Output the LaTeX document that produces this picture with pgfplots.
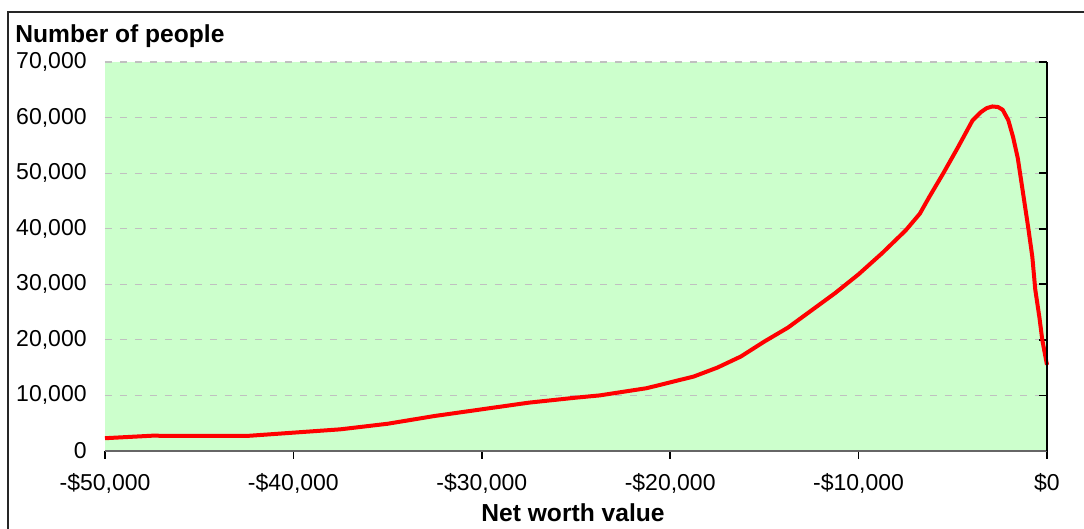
\documentclass[border=0pt]{standalone}
\usepackage{fontspec}
\setmainfont{Liberation Sans}
\usepackage{pgfplots}
\pgfplotsset{compat=1.18}
\definecolor{bggreen}{HTML}{CCFFCC}
\definecolor{gridgray}{HTML}{C0C0C0}
\begin{document}
\begin{tikzpicture}
\path[use as bounding box] (-52.5pt,-39pt) rectangle (489.5pt,225.5pt);
\draw[line width=0.9pt, black!85] (-48.5pt,-45pt) -- (-48.5pt,219.5pt) -- (495pt,219.5pt);
\begin{axis}[
  at={(0,0)}, anchor=south west,
  scale only axis, width=471pt, height=194.5pt,
  xmin=-50000, xmax=0, ymin=0, ymax=70000,
  scaled x ticks=false, scaled y ticks=false,
  axis background/.style={fill=bggreen},
  axis line style={draw=none},
  xtick={-50000,-40000,-30000,-20000,-10000,0},
  xticklabels={{-\$50,000},{-\$40,000},{-\$30,000},{-\$20,000},{-\$10,000},{\$0}},
  ytick={0,10000,20000,30000,40000,50000,60000,70000},
  yticklabels={0,{10,000},{20,000},{30,000},{40,000},{50,000},{60,000},{70,000}},
  xtick pos=bottom, xticklabel pos=bottom,
  ytick pos=right, yticklabel pos=left,
  tick align=inside,
  major tick length=4pt,
  tick style={black, line width=0.8pt},
  x tick style={yshift=-4pt},
  ymajorgrids,
  major grid style={gridgray, line width=0.6pt, dash pattern=on 3.5pt off 4pt},
  tick label style={font=\fontsize{11.5}{13}\selectfont},
  xticklabel style={anchor=base, inner sep=0pt, yshift=-20pt},
  yticklabel style={anchor=east, inner sep=0pt, xshift=-9pt},
  every axis y label/.style={at={(rel axis cs:0,1)}, anchor=base west, inner sep=0pt, xshift=-45pt, yshift=10pt, font=\bfseries\fontsize{12.3}{14}\selectfont},
  every axis x label/.style={at={(rel axis cs:0.5,0)}, anchor=base, inner sep=0pt, xshift=-1.5pt, yshift=-35.5pt, font=\bfseries\fontsize{12.3}{14}\selectfont},
  ylabel={Number of people},
  xlabel={Net worth value},
  clip=false,
]
\addplot[red, line width=2pt, line join=round] coordinates {
(-50000,2300) (-47500,2750) (-45000,2700) (-42500,2700) (-40000,3300)
(-37500,3900) (-35000,4900) (-32500,6300) (-30000,7500) (-27500,8700)
(-25000,9600) (-23750,10000) (-21250,11300) (-18750,13400) (-17500,15000)
(-16250,17000) (-15000,19700) (-13750,22200) (-12500,25300) (-11250,28400)
(-10000,31800) (-8750,35600) (-7500,39700) (-6750,42700) (-6250,45700)
(-5500,50000) (-4750,54500) (-3950,59500) (-3500,61000) (-3200,61700)
(-2900,62000) (-2600,61900) (-2350,61400) (-2050,59500) (-1800,56500)
(-1550,52700) (-1270,46400) (-1000,40300) (-780,35000) (-620,29000)
(-400,24000) (-250,20000) (0,15500)
};
\draw[black!60, line width=0.9pt] (rel axis cs:0,0) -- (rel axis cs:1,0);
\draw[black, line width=0.9pt] (rel axis cs:1,0) -- (rel axis cs:1,1);
\end{axis}
\end{tikzpicture}
\end{document}
